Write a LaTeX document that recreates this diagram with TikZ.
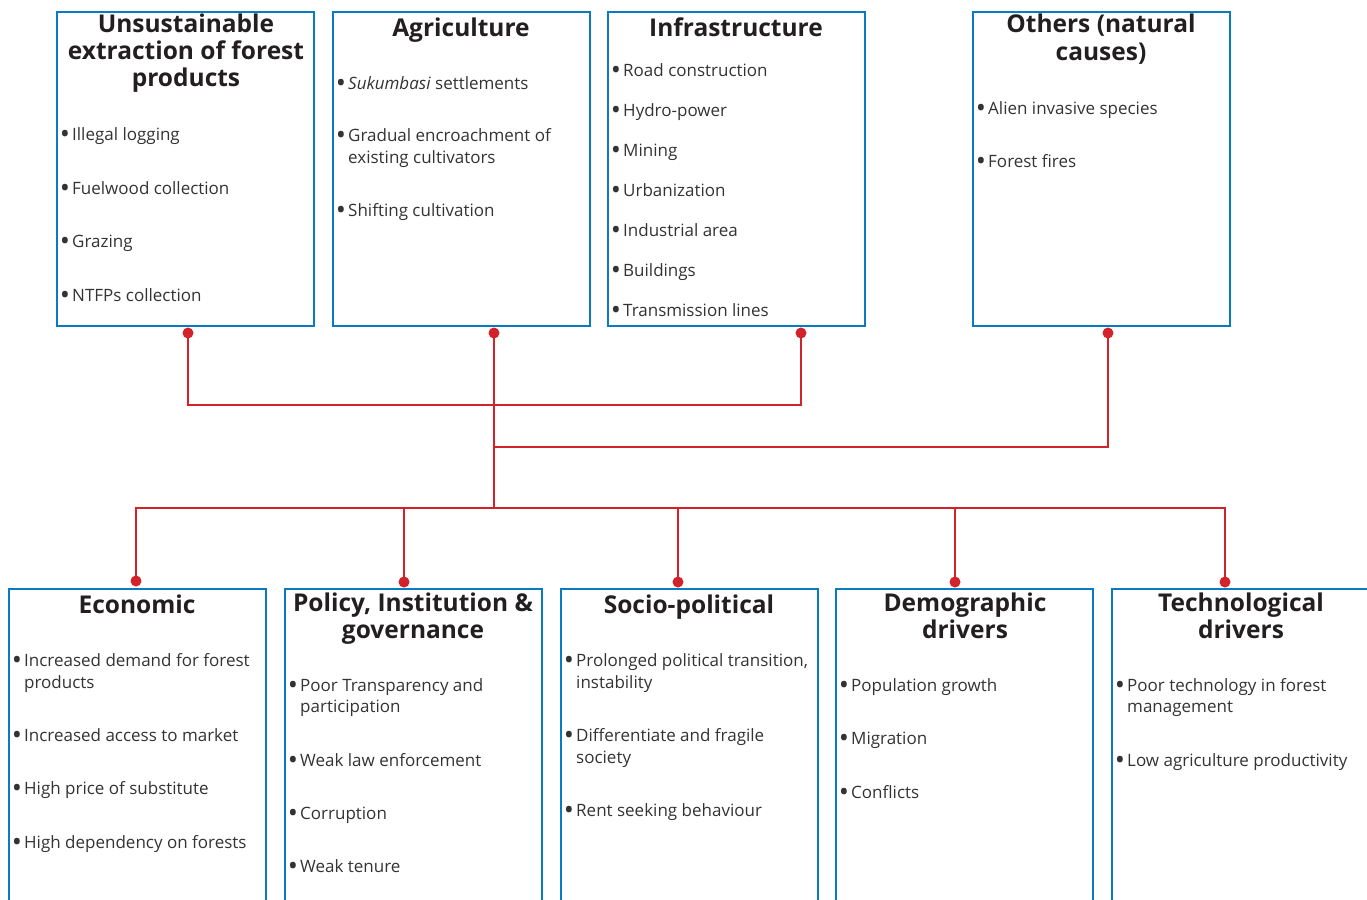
\documentclass[tikz,border=0pt]{standalone}
\usepackage{fontspec}
\setmainfont{Open Sans}
\definecolor{boxblue}{HTML}{0B7BC1}
\definecolor{linkred}{HTML}{D2232A}
\definecolor{txtgray}{HTML}{333333}
\definecolor{ttlblack}{HTML}{231F20}
\newcommand{\bul}{\llap{\raisebox{-3.4pt}{\scalebox{1.6}{\textbullet}}\hspace{2pt}}}
\begin{document}
\begin{tikzpicture}[x=1pt,y=-1pt,
  box/.style={draw=boxblue, line width=2.5pt, anchor=north west, inner sep=0pt, outer sep=0pt, minimum width=257pt},
  ttl/.style={font=\bfseries\fontsize{24.5}{26}\selectfont, text=ttlblack, anchor=base, inner sep=0pt},
  itm/.style={font=\fontsize{17}{22}\selectfont, text=txtgray, anchor=base west, inner sep=0pt},
  link/.style={draw=linkred, line width=2.3pt},
  dot/.style={circle, fill=linkred, inner sep=0pt, minimum size=11pt}]
\useasboundingbox (0,0) rectangle (1367,899);
% top boxes
\node[box, minimum height=314pt] (b1) at (57,12) {};
\node[box, minimum height=314pt] (b2) at (333,12) {};
\node[box, minimum height=314pt] (b3) at (608,12) {};
\node[box, minimum height=314pt] (b4) at (973,12) {};
% bottom boxes
\node[box, minimum height=330pt] (c1) at (9,589) {};
\node[box, minimum height=330pt] (c2) at (285,589) {};
\node[box, minimum height=330pt] (c3) at (561,589) {};
\node[box, minimum height=330pt] (c4) at (836,589) {};
\node[box, minimum height=330pt] (c5) at (1112,589) {};
% titles top
\node[ttl] (t1a) at (186,33) {Unsustainable};
\node[ttl] (t1b) at (186,59.5) {extraction of forest};
\node[ttl] (t1c) at (186,86) {products};
\node[ttl] (t2) at (461,37) {Agriculture};
\node[ttl] (t3) at (736,37) {Infrastructure};
\node[ttl] (t4a) at (1101,33) {Others (natural};
\node[ttl] (t4b) at (1101,60) {causes)};
% items box 1
\node[itm] (i11) at (72,140) {\bul Illegal logging};
\node[itm] (i12) at (72,194) {\bul Fuelwood collection};
\node[itm] (i13) at (72,247) {\bul Grazing};
\node[itm] (i14) at (72,301) {\bul NTFPs collection};
% items box 2
\node[itm] (i21) at (348,89) {\bul \textit{Sukumbasi} settlements};
\node[itm] (i22) at (348,141) {\bul Gradual encroachment of};
\node[itm] (i22b) at (348,163) {existing cultivators};
\node[itm] (i23) at (348,216) {\bul Shifting cultivation};
% items box 3
\node[itm] (i31) at (623,76) {\bul Road construction};
\node[itm] (i32) at (623,116) {\bul Hydro-power};
\node[itm] (i33) at (623,156) {\bul Mining};
\node[itm] (i34) at (623,196) {\bul Urbanization};
\node[itm] (i35) at (623,236) {\bul Industrial area};
\node[itm] (i36) at (623,276) {\bul Buildings};
\node[itm] (i37) at (623,316) {\bul Transmission lines};
% items box 4
\node[itm] (i41) at (988,114) {\bul Alien invasive species};
\node[itm] (i42) at (988,167) {\bul Forest fires};
% bottom titles
\node[ttl] (u1) at (137,613) {Economic};
\node[ttl] (u2a) at (413,611) {Policy, Institution \&};
\node[ttl] (u2b) at (413,638) {governance};
\node[ttl] (u3) at (689,613) {Socio-political};
\node[ttl] (u4a) at (965,611) {Demographic};
\node[ttl] (u4b) at (965,638) {drivers};
\node[ttl] (u5a) at (1241,611) {Technological};
\node[ttl] (u5b) at (1241,638) {drivers};
% bottom items 1
\node[itm] (j11) at (24,666) {\bul Increased demand for forest};
\node[itm] (j11b) at (24,688) {products};
\node[itm] (j12) at (24,741) {\bul Increased access to market};
\node[itm] (j13) at (24,794) {\bul High price of substitute};
\node[itm] (j14) at (24,848) {\bul High dependency on forests};
% bottom items 2
\node[itm] (j21) at (300,691) {\bul Poor Transparency and};
\node[itm] (j21b) at (300,712) {participation};
\node[itm] (j22) at (300,766) {\bul Weak law enforcement};
\node[itm] (j23) at (300,819) {\bul Corruption};
\node[itm] (j24) at (300,872) {\bul Weak tenure};
% bottom items 3
\node[itm] (j31) at (576,666) {\bul Prolonged political transition,};
\node[itm] (j31b) at (576,688) {instability};
\node[itm] (j32) at (576,741) {\bul Differentiate and fragile};
\node[itm] (j32b) at (576,763) {society};
\node[itm] (j33) at (576,816) {\bul Rent seeking behaviour};
% bottom items 4
\node[itm] (j41) at (851,691) {\bul Population growth};
\node[itm] (j42) at (851,744) {\bul Migration};
\node[itm] (j43) at (851,798) {\bul Conflicts};
% bottom items 5
\node[itm] (j51) at (1127,691) {\bul Poor technology in forest};
\node[itm] (j51b) at (1127,712) {management};
\node[itm] (j52) at (1127,766) {\bul Low agriculture productivity};
% connectors
\coordinate (h1) at (494,405);
\coordinate (h2) at (494,447);
\coordinate (h3) at (494,508);
\node[dot] (d1) at (188,333) {};
\node[dot] (d2) at (494,333) {};
\node[dot] (d3) at (801,333) {};
\node[dot] (d4) at (1108,333) {};
\node[dot] (e1) at (136,581) {};
\node[dot] (e2) at (404,582) {};
\node[dot] (e3) at (678,582) {};
\node[dot] (e4) at (955,582) {};
\node[dot] (e5) at (1225,582) {};
\draw[link] (d1.center) |- (h1) -| (d3.center);
\draw[link] (d4.center) |- (h2);
\draw[link] (d2.center) -- (h3);
\draw[link] (e1.center) |- (h3) -| (e5.center);
\draw[link] (e2.center) -- (e2.center |- h3);
\draw[link] (e3.center) -- (e3.center |- h3);
\draw[link] (e4.center) -- (e4.center |- h3);
\end{tikzpicture}
\end{document}
